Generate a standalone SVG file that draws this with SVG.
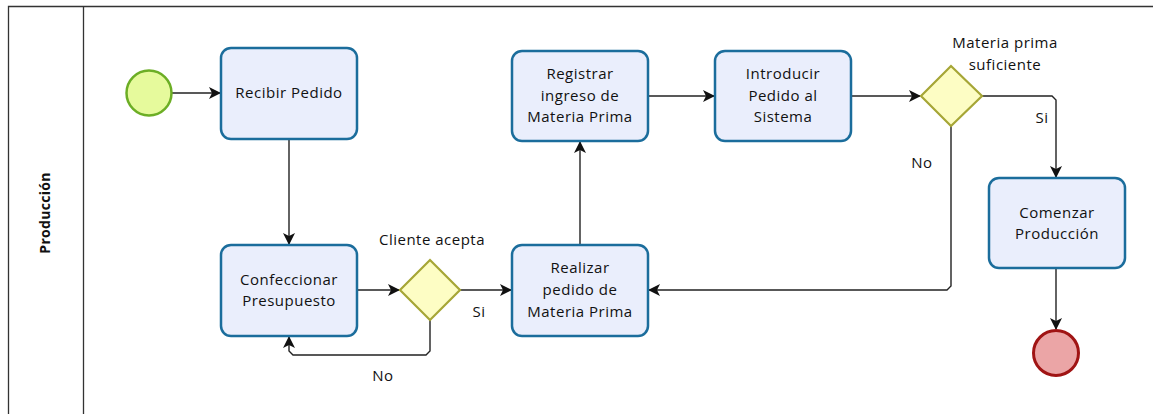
<svg xmlns="http://www.w3.org/2000/svg" width="1153" height="414" viewBox="0 0 1153 414">
<defs>
<style>
text{font-family:"Open Sans","DejaVu Sans",sans-serif;font-size:15px;letter-spacing:0.5px;fill:#111;text-anchor:middle}
.task{fill:#eaeefc;stroke:#1b6d9c;stroke-width:2.5}
.gw{fill:#fdfdc4;stroke:#a6a636;stroke-width:2.2}
.conn{fill:none;stroke:#222;stroke-width:1.4}
</style>
<marker id="arr" viewBox="0 0 12 12" refX="11" refY="6" markerWidth="12" markerHeight="12" markerUnits="userSpaceOnUse" orient="auto">
<path d="M0,0 L12,6 L0,12 L3,6 Z" fill="#111"/>
</marker>
</defs>
<rect width="1153" height="414" fill="#fff"/>
<g id="pool">
<path d="M8.5,414 V6.5 H1153" fill="none" stroke="#333" stroke-width="1.3"/>
<line x1="83.5" y1="6.5" x2="83.5" y2="414" stroke="#333" stroke-width="1.3"/>
<text transform="translate(50,213) rotate(-90)" style="font-weight:bold;font-size:14px;letter-spacing:0.3px">Producción</text>
</g>
<g id="connectors">
<path class="conn" d="M172,93 H220" marker-end="url(#arr)"/>
<path class="conn" d="M289,139 V244" marker-end="url(#arr)"/>
<path class="conn" d="M357,290 H399" marker-end="url(#arr)"/>
<path class="conn" d="M460,290 H511" marker-end="url(#arr)"/>
<path class="conn" d="M430,320 V351 L426,355 H293 L289,351 V337" marker-end="url(#arr)"/>
<path class="conn" d="M580,245 V142" marker-end="url(#arr)"/>
<path class="conn" d="M648,96 H714" marker-end="url(#arr)"/>
<path class="conn" d="M851,96 H920" marker-end="url(#arr)"/>
<path class="conn" d="M982,96 H1052 L1056,100 V177" marker-end="url(#arr)"/>
<path class="conn" d="M951,126 V286 L947,290 H649" marker-end="url(#arr)"/>
<path class="conn" d="M1056,268 V329" marker-end="url(#arr)"/>
<text x="479" y="317">Si</text>
<text x="383" y="381">No</text>
<text x="1042" y="123">Si</text>
<text x="922" y="168">No</text>
</g>
<g id="start"><circle cx="149" cy="93" r="22.5" fill="#e6fa9c" stroke="#6cae25" stroke-width="2.5"/></g>
<g id="recibir"><rect class="task" x="221" y="48" width="136" height="91" rx="10"/><text x="289" y="98">Recibir Pedido</text></g>
<g id="confeccionar"><rect class="task" x="221" y="245" width="136" height="91" rx="10"/><text x="289" y="285">Confeccionar</text><text x="289" y="306">Presupuesto</text></g>
<g id="gw1"><polygon class="gw" points="430,260 460,290 430,320 400,290"/><text x="432" y="245">Cliente acepta</text></g>
<g id="realizar"><rect class="task" x="512" y="245" width="136" height="91" rx="10"/><text x="580" y="273">Realizar</text><text x="580" y="295">pedido de</text><text x="580" y="317">Materia Prima</text></g>
<g id="registrar"><rect class="task" x="512" y="51" width="136" height="90" rx="10"/><text x="580" y="79">Registrar</text><text x="580" y="101">ingreso de</text><text x="580" y="122">Materia Prima</text></g>
<g id="introducir"><rect class="task" x="715" y="51" width="136" height="90" rx="10"/><text x="783" y="79">Introducir</text><text x="783" y="101">Pedido al</text><text x="783" y="122">Sistema</text></g>
<g id="gw2"><polygon class="gw" points="951,66 982,96 951,126 921,96"/><text x="1005" y="48">Materia prima</text><text x="1005" y="70">suficiente</text></g>
<g id="comenzar"><rect class="task" x="989" y="178" width="136" height="90" rx="10"/><text x="1057" y="218">Comenzar</text><text x="1057" y="239">Producción</text></g>
<g id="end"><circle cx="1056" cy="353" r="22.5" fill="#eba5a6" stroke="#a01414" stroke-width="3"/></g>
</svg>
